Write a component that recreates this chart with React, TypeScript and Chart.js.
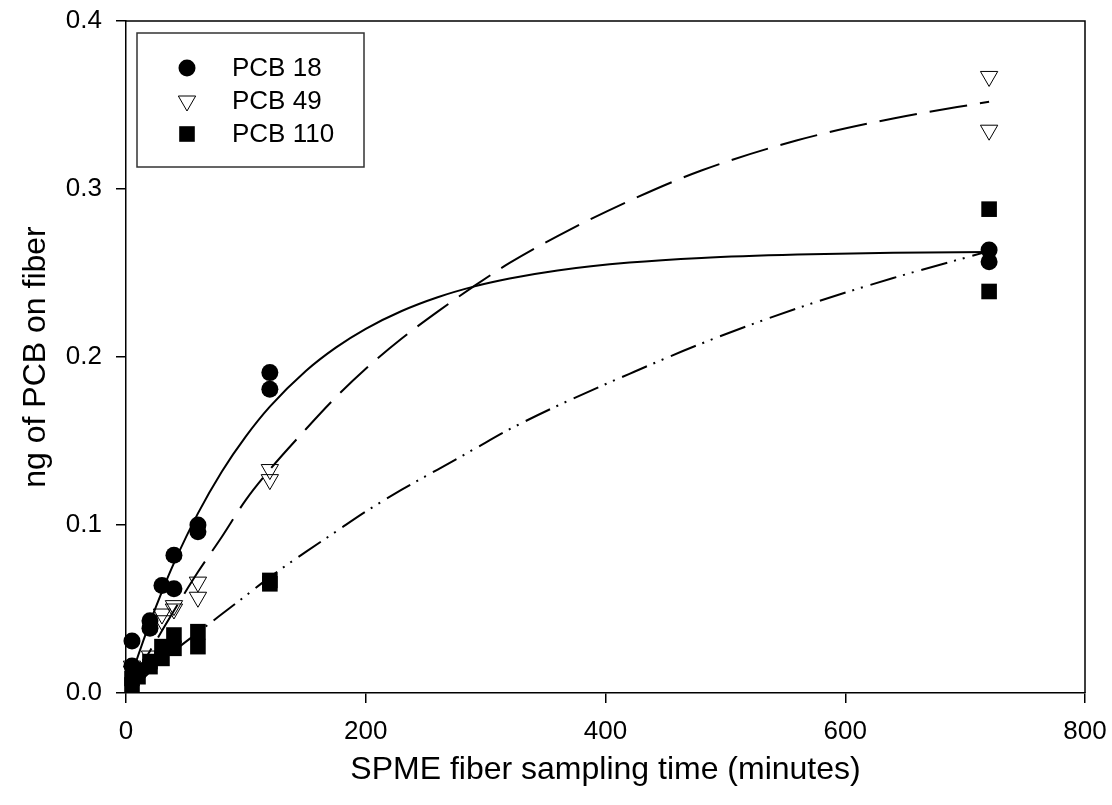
import React, { useEffect, useRef } from 'react';
import { Chart, registerables } from 'chart.js';

Chart.register(...registerables);

const seriesNames = ['PCB 18', 'PCB 49', 'PCB 110'];

// measured points (sampling time in minutes, ng on fiber)
const pcb18Times = [5, 5, 20, 20, 30, 40, 40, 60, 60, 120, 120, 720, 720];
const pcb18Values = [0.031, 0.016, 0.043, 0.0385, 0.064, 0.082, 0.062, 0.1, 0.096, 0.1907, 0.1808, 0.2637, 0.2567];

const pcb49Times = [5, 5, 10, 20, 30, 30, 40, 40, 60, 60, 120, 120, 720, 720];
const pcb49Values = [0.016, 0.013, 0.012, 0.022, 0.047, 0.043, 0.052, 0.05, 0.066, 0.057, 0.133, 0.127, 0.367, 0.335];

const pcb110Times = [5, 5, 10, 10, 20, 20, 30, 30, 40, 40, 60, 60, 120, 120, 720, 720];
const pcb110Values = [0.0087, 0.0048, 0.0137, 0.0097, 0.0187, 0.0157, 0.0276, 0.0206, 0.0345, 0.0266, 0.0365, 0.0276, 0.067, 0.065, 0.288, 0.239];

// fitted uptake curves
const fitTimes = [5, 10, 20, 30, 40, 60, 80, 100, 120, 150, 175, 200, 230, 260, 290, 320, 360, 420, 480, 560, 640, 720];
const fit18 = [0.011, 0.022, 0.042, 0.0604, 0.0773, 0.1069, 0.1319, 0.1528, 0.1705, 0.1917, 0.2056, 0.2168, 0.2274, 0.2356, 0.2419, 0.2467, 0.2515, 0.2562, 0.259, 0.261, 0.262, 0.2625];
const fit49 = [0.007, 0.013, 0.025, 0.037, 0.049, 0.072, 0.093, 0.115, 0.133, 0.157, 0.176, 0.193, 0.211, 0.227, 0.242, 0.256, 0.272, 0.293, 0.311, 0.329, 0.342, 0.352];
const fit110 = [0.003, 0.006, 0.0125, 0.019, 0.025, 0.036, 0.047, 0.058, 0.069, 0.084, 0.096, 0.108, 0.121, 0.133, 0.145, 0.157, 0.171, 0.19, 0.208, 0.229, 0.247, 0.263];

const xTicks = [0, 200, 400, 600, 800];
const yTicks = [0, 0.1, 0.2, 0.3, 0.4];

const xTitle = 'SPME fiber sampling time (minutes)';
const yTitle = 'ng of PCB on fiber';

const FONT = '"Liberation Sans", Arial, Helvetica, sans-serif';

const toPoints = (xs: number[], ys: number[]) => xs.map((x, i) => ({ x, y: ys[i] }));

type MarkerKind = 'circle' | 'triangleDown' | 'square';
const markerKinds: MarkerKind[] = ['circle', 'triangleDown', 'square'];

function drawMarker(ctx: CanvasRenderingContext2D, kind: MarkerKind, x: number, y: number) {
  ctx.save();
  ctx.fillStyle = '#000';
  ctx.strokeStyle = '#000';
  ctx.lineWidth = 1;
  if (kind === 'circle') {
    ctx.beginPath();
    ctx.arc(x, y, 8.5, 0, Math.PI * 2);
    ctx.fill();
  } else if (kind === 'square') {
    ctx.fillRect(x - 7.8, y - 7.8, 15.6, 15.6);
  } else {
    const r = 10;
    ctx.beginPath();
    ctx.moveTo(x - r * 0.866, y - r * 0.5);
    ctx.lineTo(x + r * 0.866, y - r * 0.5);
    ctx.lineTo(x, y + r);
    ctx.closePath();
    ctx.stroke();
  }
  ctx.restore();
}

const framePlugin = {
  id: 'frameBox',
  afterDatasetsDraw(chart: any) {
    const { ctx, chartArea } = chart;
    ctx.save();
    ctx.strokeStyle = '#000';
    ctx.lineWidth = 1.5;
    ctx.beginPath();
    ctx.moveTo(chartArea.left, chartArea.top);
    ctx.lineTo(chartArea.right, chartArea.top);
    ctx.lineTo(chartArea.right, chartArea.bottom);
    ctx.stroke();
    ctx.restore();
  },
};

const legendPlugin = {
  id: 'insetLegend',
  afterDraw(chart: any) {
    const { ctx, chartArea } = chart;
    const bx = chartArea.left + 11;
    const by = chartArea.top + 12;
    const bw = 227;
    const bh = 134;
    ctx.save();
    ctx.strokeStyle = '#333';
    ctx.lineWidth = 1.5;
    ctx.strokeRect(bx, by, bw, bh);
    ctx.font = `26px ${FONT}`;
    ctx.fillStyle = '#000';
    ctx.textBaseline = 'middle';
    ctx.textAlign = 'left';
    seriesNames.forEach((name, i) => {
      const cy = by + 35 + i * 33;
      drawMarker(ctx, markerKinds[i], bx + 50, cy);
      ctx.fillText(name, bx + 95, cy + 1);
    });
    ctx.restore();
  },
};

const markerPlugin = {
  id: 'sigmaMarkers',
  afterDatasetsDraw(chart: any) {
    const { ctx } = chart;
    chart.data.datasets.forEach((ds: any, di: number) => {
      if (!ds.isMarker) return;
      const meta = chart.getDatasetMeta(di);
      meta.data.forEach((el: any) => {
        drawMarker(ctx, ds.markerKind, el.x, el.y);
      });
    });
  },
};

export default function App() {
  const canvasRef = useRef<HTMLCanvasElement | null>(null);

  useEffect(() => {
    if (!canvasRef.current) return;
    Chart.defaults.font.family = FONT;
    Chart.defaults.color = '#000';

    const lineDs = (label: string, ys: number[], dash: number[]) => ({
      type: 'line' as const,
      label,
      data: toPoints(fitTimes, ys),
      borderColor: '#000',
      borderWidth: 2,
      borderDash: dash,
      borderCapStyle: 'butt' as const,
      pointRadius: 0,
      fill: false,
      cubicInterpolationMode: 'monotone' as const,
      order: 2,
    });

    const markerDs = (label: string, xs: number[], ys: number[], kind: MarkerKind) => ({
      type: 'scatter' as const,
      label,
      data: toPoints(xs, ys),
      pointRadius: 0,
      pointHoverRadius: 0,
      showLine: false,
      isMarker: true,
      markerKind: kind,
      order: 1,
    });

    const chart = new Chart(canvasRef.current, {
      type: 'scatter',
      data: {
        datasets: [
          lineDs(seriesNames[0] + ' fit', fit18, []),
          lineDs(seriesNames[1] + ' fit', fit49, [38, 13]),
          lineDs(seriesNames[2] + ' fit', fit110, [27, 7, 2, 7, 2, 8]),
          markerDs(seriesNames[0], pcb18Times, pcb18Values, 'circle'),
          markerDs(seriesNames[1], pcb49Times, pcb49Values, 'triangleDown'),
          markerDs(seriesNames[2], pcb110Times, pcb110Values, 'square'),
        ] as any,
      },
      options: {
        responsive: false,
        animation: false,
        devicePixelRatio: 1,
        layout: { padding: { top: 21, right: 27, left: 0, bottom: 0 } },
        plugins: {
          legend: { display: false },
          tooltip: { enabled: false },
        },
        scales: {
          x: {
            type: 'linear',
            min: 0,
            max: 800,
            afterFit: (s: any) => {
              s.height = 112;
              s.paddingLeft = 0;
              s.paddingRight = 0;
            },
            afterBuildTicks: (s: any) => { s.ticks = xTicks.map((v) => ({ value: v })); },
            grid: { drawOnChartArea: false, tickLength: 10, color: '#000', lineWidth: 1.5 },
            border: { color: '#000', width: 1.5 },
            ticks: { font: { size: 26 }, padding: 13, color: '#000', maxRotation: 0 },
            title: { display: true, text: xTitle, font: { size: 32 }, padding: { bottom: 16 }, color: '#000' },
          },
          y: {
            type: 'linear',
            min: 0,
            max: 0.4,
            afterFit: (s: any) => {
              s.width = 126;
              s.paddingTop = 0;
              s.paddingBottom = 0;
            },
            afterBuildTicks: (s: any) => { s.ticks = yTicks.map((v) => ({ value: v })); },
            grid: { drawOnChartArea: false, tickLength: 10, color: '#000', lineWidth: 1.5 },
            border: { color: '#000', width: 1.5 },
            ticks: {
              font: { size: 26 },
              padding: 14,
              color: '#000',
              callback: (v: any) => Number(v).toFixed(1),
            },
            title: { display: true, text: yTitle, font: { size: 32 }, padding: { top: 17 }, color: '#000' },
          },
        },
      },
      plugins: [markerPlugin, framePlugin, legendPlugin],
    });

    return () => chart.destroy();
  }, []);

  return (
    <div style={{ position: 'fixed', left: 0, top: 0, width: 1112, height: 805, background: '#fff' }}>
      <canvas ref={canvasRef} width={1112} height={805} style={{ width: 1112, height: 805, display: 'block' }} />
    </div>
  );
}
